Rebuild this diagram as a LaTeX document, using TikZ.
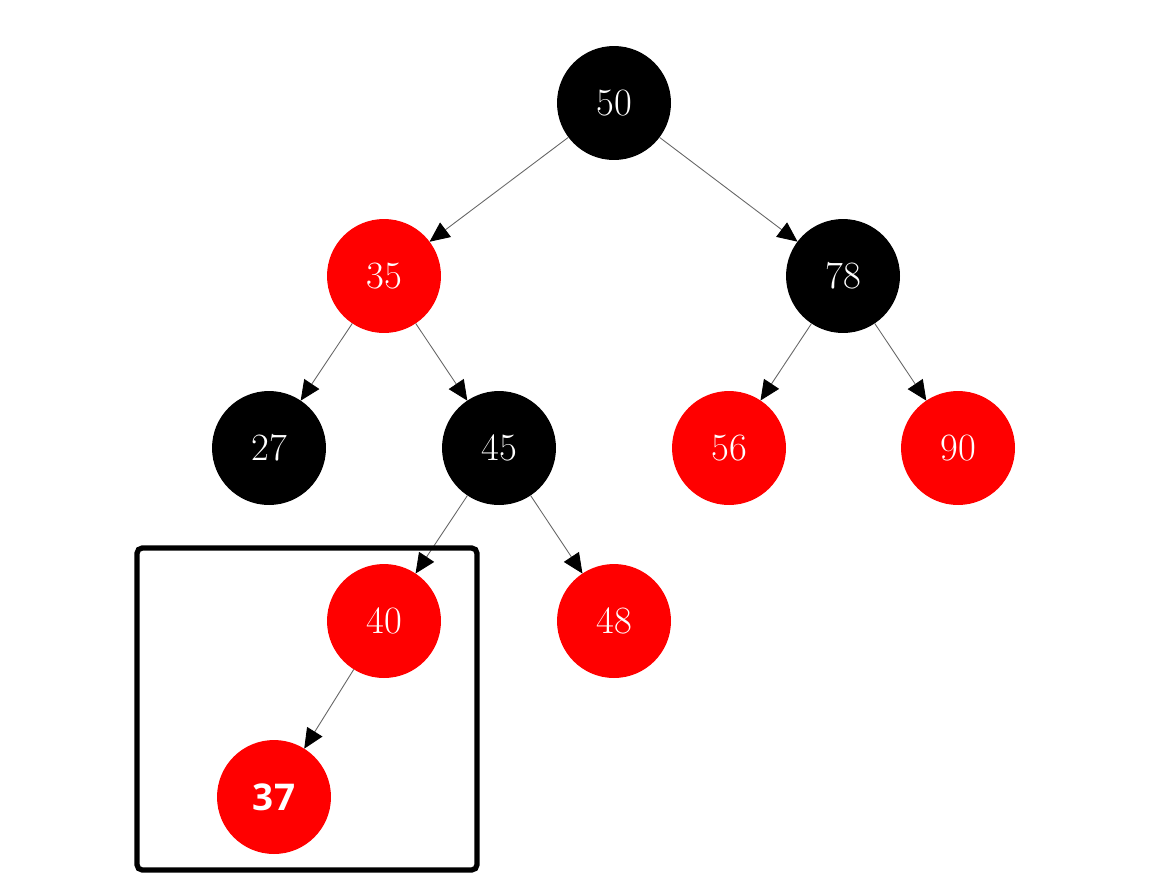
\documentclass[tikz,border=0pt]{standalone}
\usepackage{fontspec}
\newfontfamily\boldsans{Open Sans}
\usepackage{tikz}
\usetikzlibrary{arrows.meta}

\begin{document}
\begin{tikzpicture}[
  x=0.02cm, y=-0.02cm,
  font=\fontsize{22}{26}\selectfont,
  rb/.style={circle, minimum size=2.28cm, inner sep=0pt, outer sep=0pt, text=white},
  blk/.style={rb, fill=black},
  red/.style={rb, fill=red},
  arr/.style={-{Triangle[length=0.4cm, width=0.36cm, color=black, fill=black]}, draw=gray!80!black, line width=0.5pt},
  frame/.style={draw, line width=3pt, rounded corners=3pt}
]
\useasboundingbox (0,0) rectangle (1158,876);
\node[blk] (n50) at (614,103) {50};
\node[red] (n35) at (384,276) {35};
\node[blk] (n78) at (843,276) {78};
\node[blk] (n27) at (269,448) {27};
\node[blk] (n45) at (499,448) {45};
\node[red] (n56) at (729,448) {56};
\node[red] (n90) at (958,448) {90};
\node[red] (n40) at (384,621) {40};
\node[red] (n48) at (614,621) {48};
\node[red, font=\boldsans\bfseries\fontsize{21}{24}\selectfont] (n37) at (274,797) {37};
\draw[arr] (n50) -- (n35);
\draw[arr] (n50) -- (n78);
\draw[arr] (n35) -- (n27);
\draw[arr] (n35) -- (n45);
\draw[arr] (n78) -- (n56);
\draw[arr] (n78) -- (n90);
\draw[arr] (n45) -- (n40);
\draw[arr] (n45) -- (n48);
\draw[arr] (n40) -- (n37);
\draw[frame] (137,548) rectangle (477,870);
\end{tikzpicture}
\end{document}
